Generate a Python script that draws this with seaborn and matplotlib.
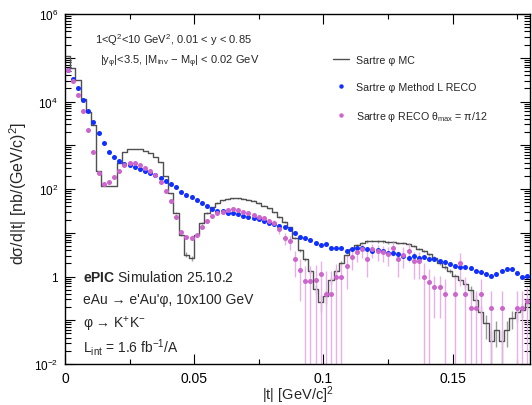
import numpy as np
import pandas as pd
import matplotlib
matplotlib.use("Agg")
import matplotlib.pyplot as plt
import seaborn as sns
from matplotlib.ticker import FixedLocator, FuncFormatter, LogLocator, NullFormatter, MultipleLocator
from matplotlib.lines import Line2D

# ---------------- data ----------------
t_bin_width = 0.002
n_bins = 90

mc_xsec = [
    107000, 57500, 30900, 11700, 5620, 2880, 263, 117, 117, 117,
    398, 708, 832, 832, 832, 741, 661, 537, 407, 200,
    79, 28.2, 8.9, 3.16, 2.63, 8.9, 16.6, 28.2, 38.0, 47.9,
    55.0, 60.3, 61.7, 61.7, 60.3, 57.5, 53.7, 47.9, 41.7, 36.3,
    29.5, 22.9, 17.4, 13.2, 7.6, 3.98, 2.45, 1.32, 0.525, 0.263,
    0.355, 0.832, 1.32, 2.04, 3.02, 4.17, 5.13, 5.89, 6.31, 6.46,
    6.31, 6.31, 6.03, 6.17, 5.89, 5.89, 5.50, 5.01, 4.27, 3.80,
    3.24, 2.69, 2.04, 1.66, 1.32, 1.02, 0.851, 0.661, 0.501, 0.295,
    0.158, 0.085, 0.034, 0.060, 0.034, 0.060, 0.112, 0.151, 0.174, 0.251,
]
mc_rel_err = [
    0.005, 0.005, 0.005, 0.005, 0.005, 0.005, 0.005, 0.005, 0.005, 0.005,
    0.01, 0.01, 0.01, 0.01, 0.01, 0.01, 0.01, 0.01, 0.01, 0.01,
    0.02, 0.04, 0.06, 0.12, 0.14, 0.06, 0.04, 0.03, 0.03, 0.03,
    0.03, 0.03, 0.03, 0.03, 0.03, 0.03, 0.03, 0.03, 0.03, 0.03,
    0.03, 0.03, 0.04, 0.04, 0.06, 0.08, 0.10, 0.14, 0.25, 0.40,
    0.35, 0.18, 0.12, 0.10, 0.08, 0.06, 0.06, 0.06, 0.06, 0.06,
    0.06, 0.06, 0.06, 0.06, 0.06, 0.06, 0.06, 0.06, 0.06, 0.06,
    0.07, 0.08, 0.09, 0.10, 0.11, 0.13, 0.14, 0.16, 0.20, 0.25,
    0.35, 0.55, 0.70, 0.60, 0.70, 0.60, 0.45, 0.40, 0.35, 0.30,
]
lreco_xsec = [
    52000, 32400, 20000, 10700, 6030, 3390, 1910, 1120, 692, 537,
    427, 372, 355, 324, 288, 257, 234, 204, 182, 155,
    132, 110, 83.2, 72.4, 64.6, 57.5, 49.0, 41.7, 34.7, 31.6,
    30.9, 28.8, 28.2, 26.9, 24.5, 22.9, 21.4, 20.4, 18.6, 17.0,
    15.8, 14.5, 13.2, 12.0, 10.0, 8.13, 7.76, 6.92, 5.89, 5.25,
    5.62, 4.37, 4.37, 4.57, 3.80, 4.17, 4.57, 4.37, 4.17, 3.80,
    4.07, 3.80, 3.47, 3.39, 3.24, 2.95, 2.69, 2.88, 2.69, 2.82,
    2.45, 2.45, 2.24, 2.14, 1.91, 1.78, 1.66, 1.66, 1.58, 1.32,
    1.26, 1.17, 1.02, 1.12, 1.32, 1.51, 1.45, 1.20, 0.98, 1.05,
]
nan = float("nan")
reco_xsec = [
    52500, 28800, 13800, 6030, 2290, 708, 234, 129, 148, 191,
    263, 347, 398, 398, 355, 309, 257, 209, 148, 91.2,
    52.5, 22.4, 10.5, 8.13, 7.76, 9.12, 13.2, 18.6, 24.5, 28.2,
    30.2, 33.1, 34.7, 33.1, 30.2, 28.2, 25.1, 23.4, 21.4, 18.6,
    16.6, 12.0, 7.41, 6.31, 2.45, 1.41, 0.776, 0.776, 0.851, 1.12,
    0.389, 0.389, 0.955, 0.955, 1.70, 2.75, 3.55, 4.17, 2.45, 4.17,
    3.80, 3.55, 3.24, 4.57, 2.45, 3.16, 3.80, 2.24, 2.24, 0.955,
    0.759, 0.562, 0.562, 0.389, nan, 0.389, 2.00, 0.389, 0.191, 0.191,
    0.389, nan, 0.191, nan, 0.191, nan, nan, 0.191, 0.191, 0.282,
]
reco_rel_err = [
    0.02, 0.02, 0.02, 0.02, 0.02, 0.02, 0.02, 0.02, 0.02, 0.02,
    0.03, 0.03, 0.03, 0.03, 0.03, 0.03, 0.03, 0.03, 0.03, 0.03,
    0.06, 0.08, 0.12, 0.12, 0.12, 0.10, 0.08, 0.08, 0.08, 0.08,
    0.08, 0.08, 0.08, 0.08, 0.08, 0.10, 0.10, 0.10, 0.10, 0.10,
    0.15, 0.20, 0.30, 0.35, 0.60, 0.80, 1.2, 1.2, 1.1, 1.0,
    2.5, 2.5, 1.0, 1.0, 0.70, 0.50, 0.40, 0.35, 0.60, 0.35,
    0.40, 0.40, 0.45, 0.35, 0.60, 0.50, 0.45, 0.60, 0.60, 1.1,
    1.0, 0.80, 0.80, 1.2, nan, 1.5, 0.70, 1.5, 1.5, 1.5,
    1.2, nan, 1.5, nan, 1.5, nan, nan, 1.5, 1.5, 1.0,
]

legend_labels = [
    "Sartre \u03c6 MC",
    "Sartre \u03c6 Method L RECO",
    "Sartre \u03c6 RECO \u03b8$_{\\mathregular{max}}$ = \u03c0/12",
]

# ---------------- style ----------------
MC_COLOR = "#505050"
MC_ERR_COLOR = "#9a9a9a"
BLUE = "#1030ff"
PINK = "#cc66cc"
PINK_ERR = "#e8b0e8"

sns.set_style("ticks")
plt.rcParams["font.family"] = ["Liberation Sans", "DejaVu Sans"]
plt.rcParams["mathtext.fontset"] = "custom"
plt.rcParams["mathtext.rm"] = "Liberation Sans"
plt.rcParams["mathtext.it"] = "Liberation Sans:italic"
plt.rcParams["mathtext.bf"] = "Liberation Sans:bold"
plt.rcParams["axes.linewidth"] = 1.0

t_edges = [round(i * t_bin_width, 6) for i in range(n_bins + 1)]
t_centers = [0.5 * (a + b) for a, b in zip(t_edges[:-1], t_edges[1:])]

df = pd.DataFrame({
    "t": t_centers,
    "mc": np.array(mc_xsec, float),
    "mc_rel": np.array(mc_rel_err, float),
    "lreco": np.array(lreco_xsec, float),
    "reco": np.array(reco_xsec, float),
    "reco_rel": np.array(reco_rel_err, float),
})

fig = plt.figure(figsize=(5.32, 4.06), dpi=100)
fig.patch.set_facecolor("white")
ax = fig.add_axes([65 / 532, 41 / 406, 465 / 532, 350 / 406])
ax.set_facecolor("white")

# MC histogram
sns.histplot(data=df, x="t", weights="mc", bins=t_edges, element="step",
             fill=False, color=MC_COLOR, linewidth=1.0, ax=ax, zorder=2)
mc_err = (df["mc"] * df["mc_rel"]).to_numpy()
mc_lo = np.where(mc_err >= df["mc"].to_numpy(), df["mc"].to_numpy() - 1e-4, mc_err)
ax.errorbar(df["t"], df["mc"], yerr=[mc_lo, mc_err], fmt="none",
            ecolor=MC_ERR_COLOR, elinewidth=1.0, capsize=0, zorder=1.5)

# pink error bars
rk_err = (df["reco"] * df["reco_rel"]).to_numpy()
rk_lo = np.where(rk_err >= df["reco"].to_numpy(), df["reco"].to_numpy() - 1e-4, rk_err)
ax.errorbar(df["t"], df["reco"], yerr=[rk_lo, rk_err], fmt="none",
            ecolor=PINK_ERR, elinewidth=1.0, capsize=0, zorder=2.5)

sns.scatterplot(data=df, x="t", y="lreco", color=BLUE, s=13, linewidth=0,
                ax=ax, zorder=3, legend=False)
sns.scatterplot(data=df, x="t", y="reco", color=PINK, s=13, linewidth=0,
                ax=ax, zorder=4, legend=False)

ax.set_yscale("log")
ax.set_xlim(t_edges[0], t_edges[-1])
ax.set_ylim(1e-2, 1e6)

# ticks
ax.xaxis.set_major_locator(MultipleLocator(0.05))
ax.xaxis.set_minor_locator(MultipleLocator(0.025))
ax.xaxis.set_major_formatter(FuncFormatter(lambda v, p: f"{v:g}"))
ax.yaxis.set_major_locator(FixedLocator(10.0 ** np.arange(-2, 7)))

def yfmt(v, p):
    e = int(round(np.log10(v)))
    if e % 2:
        return ""
    if e == 0:
        return "1"
    return f"$10^{{{e}}}$"

ax.yaxis.set_major_formatter(FuncFormatter(yfmt))
ax.yaxis.set_minor_locator(LogLocator(base=10, subs=np.arange(2, 10), numticks=100))
ax.yaxis.set_minor_formatter(NullFormatter())
ax.tick_params(which="both", direction="in", top=True, right=True, width=0.8, colors="black")
ax.tick_params(axis="x", which="major", length=7, labelsize=10, pad=5)
ax.tick_params(axis="x", which="minor", length=3.5)
ax.tick_params(axis="y", which="major", length=7, labelsize=8.5, pad=5)
ax.tick_params(axis="y", which="minor", length=4)
for s in ax.spines.values():
    s.set_color("black")
    s.set_linewidth(1.0)

ax.set_xlabel("|t| [GeV/c]$^{2}$", fontsize=10.5, labelpad=-1)
ax.set_ylabel("d\u03c3/d|t| [nb/(GeV/c)$^{2}$]", fontsize=11.5)
ax.yaxis.set_label_coords(-0.078, 0.49)

# annotations
ax.text(0.064, 0.929, "1<Q$^{2}$<10 GeV$^{2}$, 0.01 < y < 0.85", transform=ax.transAxes,
        fontsize=8, va="center", ha="left")
ax.text(0.075, 0.866,
        "|y$_{\\mathregular{\u03c6}}$|<3.5, |M$_{\\mathregular{inv}}$ \u2212 M$_{\\mathregular{\u03c6}}$| < 0.02 GeV",
        transform=ax.transAxes, fontsize=8, va="center", ha="left")

bl = [
    "$\\mathbf{ePIC}$ Simulation 25.10.2",
    "eAu \u2192 e'Au'\u03c6, 10x100 GeV",
    "\u03c6 \u2192 K$^{+}$K$^{-}$",
    "L$_{\\mathregular{int}}$ = 1.6 fb$^{-1}$/A",
]
for txt, yy in zip(bl, [0.249, 0.186, 0.117, 0.051]):
    ax.text(0.039, yy, txt, transform=ax.transAxes, fontsize=10, va="center", ha="left")

handles = [
    Line2D([], [], color=MC_COLOR, lw=1.0),
    Line2D([], [], color=BLUE, marker="o", ls="", ms=3.2, mec="none"),
    Line2D([], [], color=PINK, marker="o", ls="", ms=3.2, mec="none"),
]
ax.legend(handles, legend_labels, loc="upper left", bbox_to_anchor=(0.577, 0.883),
          frameon=False, fontsize=7.7, labelspacing=1.6, handlelength=1.5,
          handletextpad=0.6, borderpad=0, borderaxespad=0)

fig.savefig("out.png", dpi=100, facecolor="white")
